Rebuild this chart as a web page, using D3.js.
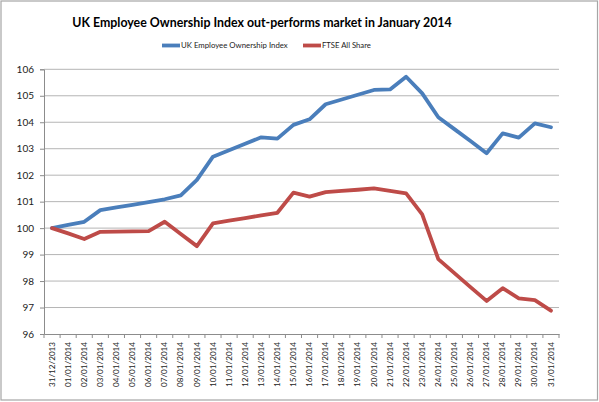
<!DOCTYPE html>
<html><head><meta charset="utf-8">
<script src="https://cdn.jsdelivr.net/npm/d3@7"></script>
<style>body{margin:0;background:#fff}svg{display:block}</style>
</head><body><svg id="c" width="599" height="402"></svg>
<script>
const categories = ["31/12/2013","01/01/2014","02/01/2014","03/01/2014","04/01/2014","05/01/2014","06/01/2014","07/01/2014","08/01/2014","09/01/2014","10/01/2014","11/01/2014","12/01/2014","13/01/2014","14/01/2014","15/01/2014","16/01/2014","17/01/2014","18/01/2014","19/01/2014","20/01/2014","21/01/2014","22/01/2014","23/01/2014","24/01/2014","25/01/2014","26/01/2014","27/01/2014","28/01/2014","29/01/2014","30/01/2014","31/01/2014"];
const ukEoi = [100,100.12,100.24,100.68,100.78,100.88,100.98,101.09,101.24,101.82,102.70,102.94,103.19,103.43,103.38,103.90,104.11,104.68,104.86,105.04,105.22,105.24,105.72,105.09,104.19,103.74,103.29,102.83,103.58,103.42,103.96,103.81];
const ftse = [100,99.80,99.59,99.86,99.87,99.88,99.89,100.24,99.78,99.32,100.18,100.28,100.38,100.48,100.58,101.34,101.19,101.36,101.41,101.45,101.50,101.41,101.31,100.52,98.83,98.30,97.77,97.25,97.73,97.35,97.28,96.88];
const yTicks = [96,97,98,99,100,101,102,103,104,105,106];
const seriesNames = ["UK Employee Ownership Index","FTSE All Share"];
const colors = ["#4A7EBB","#BE4B48"];
const titleText = "UK Employee Ownership Index out-performs market in January 2014";

const svg = d3.select("#c");
const font = "Lato, 'Open Sans', sans-serif";
svg.append("rect").attr("x",1).attr("y",1).attr("width",596.5).attr("height",399).attr("fill","#fff").attr("stroke","#a6a6a6").attr("stroke-width",1.2);

const L=44, R=559, T=69.3, B=334;
const x = d3.scaleBand().domain(categories).range([L,R]);
const y = d3.scaleLinear().domain([96,106]).range([B,T]);

function fit(sel, base, target){
  const w = sel.node().getComputedTextLength();
  sel.attr("font-size", base*target/w);
}

// gridlines
svg.append("g").selectAll("line").data(yTicks.slice(1)).join("line")
  .attr("x1",L).attr("x2",R).attr("y1",d=>y(d)).attr("y2",d=>y(d))
  .attr("stroke","#b5b5b5").attr("stroke-width",1);

// y axis
const ya = svg.append("g").attr("transform",`translate(${L},0)`)
  .call(d3.axisLeft(y).tickValues(yTicks).tickSize(4).tickPadding(6).tickFormat(d3.format("d")));
ya.select(".domain").attr("stroke","#8c8c8c");
ya.selectAll(".tick line").attr("stroke","#8c8c8c");
ya.selectAll("text").attr("font-family",font).attr("font-size",10).attr("fill","#222");

// x axis
const xa = svg.append("g").attr("transform",`translate(0,${B})`)
  .call(d3.axisBottom(x).tickSize(0).tickPadding(0));
xa.select(".domain").attr("stroke","#8c8c8c");
xa.selectAll(".tick line").remove();
const xt = xa.selectAll(".tick text").attr("font-family",font).attr("font-size",9).attr("fill","#222")
  .attr("transform","rotate(-90)").attr("text-anchor","end").attr("dy","0.32em").attr("x",-8).attr("y",0);
const xw = xt.nodes()[0].getComputedTextLength();
xt.attr("font-size", 9*45/xw);
// tick marks between categories
svg.append("g").selectAll("line").data(categories.concat(["end"])).join("line")
  .attr("x1",(d,i)=>L+i*x.bandwidth()).attr("x2",(d,i)=>L+i*x.bandwidth())
  .attr("y1",B).attr("y2",B+4).attr("stroke","#8c8c8c");

// lines
const line = d3.line().x((d,i)=>x(categories[i])+x.bandwidth()/2).y(d=>y(d));
[ukEoi, ftse].forEach((s,k)=>{
  svg.append("path").datum(s).attr("d",line).attr("fill","none")
    .attr("stroke",colors[k]).attr("stroke-width",3.8).attr("stroke-linejoin","round").attr("stroke-linecap","round");
});

// title
const t = svg.append("text").attr("x",262).attr("y",27).attr("text-anchor","middle")
  .attr("font-family",font).attr("font-weight","bold").attr("font-size",15).attr("fill","#000").text(titleText);
fit(t,15,380);

// legend
const lg = svg.append("g");
const legX = [162, 303];
const legW = [107, 49];
seriesNames.forEach((n,k)=>{
  lg.append("line").attr("x1",legX[k]).attr("x2",legX[k]+18).attr("y1",45.5).attr("y2",45.5)
    .attr("stroke",colors[k]).attr("stroke-width",3.8);
  const tx = lg.append("text").attr("x",legX[k]+19).attr("y",45.5).attr("dy","0.35em")
    .attr("font-family",font).attr("font-size",9).attr("fill","#222").text(n);
  fit(tx,9,legW[k]);
});
</script></body></html>
